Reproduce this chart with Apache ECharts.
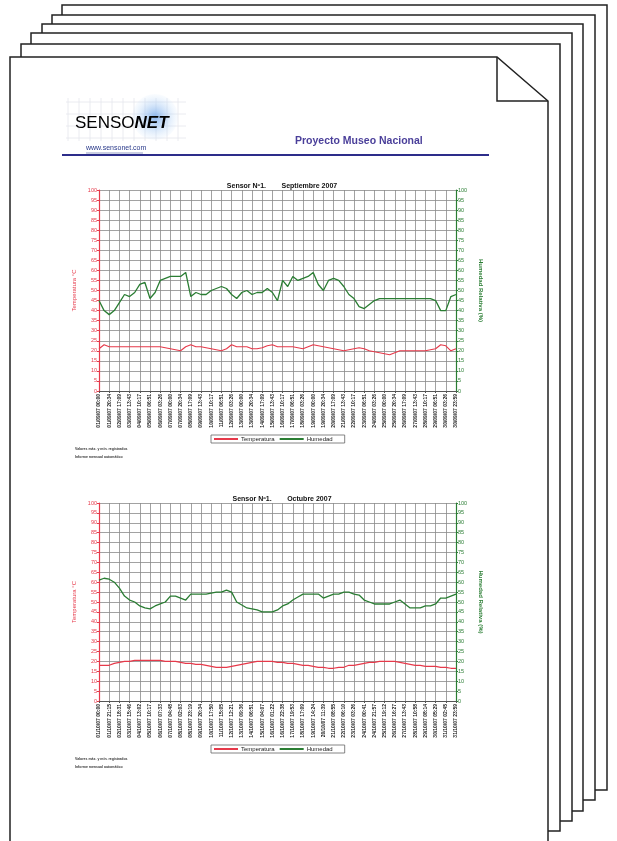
<!DOCTYPE html>
<html>
<head>
<meta charset="utf-8">
<script src="https://cdn.jsdelivr.net/npm/echarts@6/dist/echarts.min.js"></script>
<style>
html,body{margin:0;padding:0;background:#fff;}
#c{width:617px;height:841px;}
</style>
</head>
<body>
<div id="c"></div>
<script>
// ---------- data ----------
const sepTicks = ["01/09/07 00:00","01/09/07 20:34","02/09/07 17:09","03/09/07 13:43","04/09/07 10:17","05/09/07 06:51","06/09/07 03:26","07/09/07 00:00","07/09/07 20:34","08/09/07 17:09","09/09/07 13:43","10/09/07 10:17","11/09/07 06:51","12/09/07 03:26","13/09/07 00:00","13/09/07 20:34","14/09/07 17:09","15/09/07 13:43","16/09/07 10:17","17/09/07 06:51","18/09/07 03:26","19/09/07 00:00","19/09/07 20:34","20/09/07 17:09","21/09/07 13:43","22/09/07 10:17","23/09/07 06:51","24/09/07 03:26","25/09/07 00:00","25/09/07 20:34","26/09/07 17:09","27/09/07 13:43","28/09/07 10:17","29/09/07 06:51","30/09/07 03:26","30/09/07 23:59"];
const octTicks = ["01/10/07 00:00","01/10/07 21:15","02/10/07 18:31","03/10/07 15:46","04/10/07 13:02","05/10/07 10:17","06/10/07 07:33","07/10/07 04:48","08/10/07 02:03","08/10/07 23:19","09/10/07 20:34","10/10/07 17:50","11/10/07 15:05","12/10/07 12:21","13/10/07 09:36","14/10/07 06:51","15/10/07 04:07","16/10/07 01:22","16/10/07 22:38","17/10/07 19:53","18/10/07 17:09","19/10/07 14:24","20/10/07 11:39","21/10/07 08:55","22/10/07 06:10","23/10/07 03:26","24/10/07 00:41","24/10/07 21:57","25/10/07 19:12","26/10/07 16:27","27/10/07 13:43","28/10/07 10:58","29/10/07 08:14","30/10/07 05:29","31/10/07 02:45","31/10/07 23:59"];
const yTicks = [0,5,10,15,20,25,30,35,40,45,50,55,60,65,70,75,80,85,90,95,100];

// one reading every half tick interval
const sepTemp = [21,23,22,22,22,22,22,22,22,22,22,22,22,21.5,21,20.5,20,22,23,22,22,21.5,21,20.5,20,21,23,22,22,22,21,21,21.5,22.5,23,22,22,22,22,21.5,21,22,23,22.5,22,21.5,21,20.5,20,20.5,21,21.5,21,20,19.5,19,18.5,18,19,20,20,20,20,20,20,20.5,21,23,22.5,20,21];
const sepHum = [45,40,38,40,44,48,47,49,53,54,46,49,55,56,57,57,57,59,47,49,48,48,50,51,52,51,48,46,49,50,48,49,49,51,49,45,55,52,57,55,56,57,59,53,50,55,56,55,52,48,46,42,41,43,45,46,46,46,46,46,46,46,46,46,46,46,45,40,40,47,48];
const octTemp = [18,18,18,19,19.5,20,20,20.5,20.5,20.5,20.5,20.5,20.5,20,20,20,19.5,19,19,18.5,18.5,18,17.5,17,17,17,17.5,18,18.5,19,19.5,20,20,20,20,19.5,19.5,19,19,18.5,18,18,17.5,17,17,16.5,16.5,17,17,18,18,18.5,19,19.5,19.5,20,20,20,20,19.5,19,18.5,18,18,17.5,17.5,17.5,17,17,16.5,16.5];
const octHum = [61,62,61.5,60,57,53,51,50,48,47,46.5,48,49,50,53,53,52,51,54,54,54,54,54.5,55,55,56,55,50,48.5,47,46.5,46,45,45,45,46,48,49,51,52.5,54,54,54,54,52,53,54,54,55,55,54,53.5,51,50,49,49,49,49,50,51,49,47,47,47,48,48,49,52,52,53,54];
const STEP = 0.5;

const titles = ["Sensor Nº1.        Septiembre 2007", "Sensor Nº1.        Octubre 2007"];
const seriesNames = ["Temperatura", "Humedad"];
const notes = [["Valores máx. y mín. registrados", "Informe mensual automático"],["Valores máx. y mín. registrados", "Informe mensual automático"]];

// ---------- layout ----------
const RED = '#e6394a', GREEN = '#2a7d33', GRID = '#8a8a8a';
const FONT = 'Liberation Sans';
const grids = [
  {left:99, top:190, width:357, height:201},
  {left:99, top:503, width:357, height:198}
];
const toXY = arr => arr.map((v,i)=>[i*STEP, v]);

const xAxes = [], yAxes = [], series = [], titleArr = [], legends = [];
[[sepTicks, sepTemp, sepHum],[octTicks, octTemp, octHum]].forEach((set, g)=>{
  const ticks = set[0];
  xAxes.push({
    type:'value', gridIndex:g, min:0, max:ticks.length-1, interval:1,
    axisLine:{show:true, onZero:false, lineStyle:{color:'#555', width:1}},
    axisTick:{show:true, length:2, lineStyle:{color:'#555'}},
    splitLine:{show:true, lineStyle:{color:GRID, width:0.8}},
    axisLabel:{rotate:90, fontSize:5, color:'#222', fontFamily:FONT, fontWeight:'bold', margin:3,
      showMinLabel:true, showMaxLabel:true, formatter:v=>ticks[Math.round(v)] || ''}
  });
  yAxes.push({
    type:'value', gridIndex:g, position:'left', min:yTicks[0], max:yTicks[yTicks.length-1], interval:yTicks[1]-yTicks[0],
    name:'Temperatura °C', nameLocation:'middle', nameGap:19,
    nameTextStyle:{color:RED, fontSize:6, fontFamily:FONT},
    axisLine:{show:true, lineStyle:{color:RED, width:1.2}},
    axisTick:{show:true, length:2, lineStyle:{color:RED}},
    splitLine:{show:true, lineStyle:{color:GRID, width:0.8}},
    axisLabel:{fontSize:5.5, color:RED, fontFamily:FONT, margin:2}
  });
  yAxes.push({
    type:'value', gridIndex:g, position:'right', min:yTicks[0], max:yTicks[yTicks.length-1], interval:yTicks[1]-yTicks[0],
    name:'Humedad Relativa (%)', nameLocation:'middle', nameGap:16, nameRotate:-90,
    nameTextStyle:{color:GREEN, fontSize:6, fontFamily:FONT, fontWeight:'bold'},
    axisLine:{show:true, lineStyle:{color:GREEN, width:1.2}},
    axisTick:{show:true, length:2, lineStyle:{color:GREEN}},
    splitLine:{show:false},
    axisLabel:{fontSize:5.5, color:GREEN, fontFamily:FONT, margin:2}
  });
  series.push({name:seriesNames[0], type:'line', xAxisIndex:g, yAxisIndex:g*2, data:toXY(set[1]),
    symbol:'none', lineStyle:{color:RED, width:1.1}, itemStyle:{color:RED}, z:3});
  series.push({name:seriesNames[1], type:'line', xAxisIndex:g, yAxisIndex:g*2+1, data:toXY(set[2]),
    symbol:'none', lineStyle:{color:GREEN, width:1.3}, itemStyle:{color:GREEN}, z:4});
  const gr = grids[g];
  titleArr.push({text:titles[g], left:277, top:gr.top-12, textAlign:'center',
    textStyle:{fontSize:7, fontWeight:'bold', color:'#111', fontFamily:FONT}});
  legends.push({data:seriesNames, left:211, top:gr.top+gr.height+44, orient:'horizontal',
    itemWidth:24, itemHeight:2, itemGap:4, padding:[1,12,1,2],
    borderColor:'#666', borderWidth:0.8, selectedMode:false,
    textStyle:{fontSize:6, color:'#222', fontFamily:FONT, padding:[0,0,0,-2]}});
});

// ---------- page decoration ----------
const pages = [
  [62,5,607,790],[52,15,595,800],[42,24,583,811],[31,33,572,821],[21,44,560,831]
];
const graphic = [];
pages.forEach(p=>{
  graphic.push({type:'rect', z:-10, shape:{x:p[0], y:p[1], width:p[2]-p[0], height:p[3]-p[1]},
    style:{fill:'#fff', stroke:'#222', lineWidth:1.5}});
});
graphic.push({type:'polygon', z:-9, shape:{points:[[10,57],[497,57],[548,101],[548,860],[10,860]]},
  style:{fill:'#fff', stroke:'#222', lineWidth:1.5}});
graphic.push({type:'polyline', z:-8, shape:{points:[[497,57],[497,101],[548,101]]},
  style:{fill:null, stroke:'#222', lineWidth:1.5}});
// logo background grid
for (let i=0;i<11;i++){
  graphic.push({type:'line', z:-7, shape:{x1:68+i*11, y1:98, x2:68+i*11, y2:141}, style:{stroke:'#e4e6ec', lineWidth:0.8}});
}
for (let j=0;j<4;j++){
  graphic.push({type:'line', z:-7, shape:{x1:66, y1:102+j*12, x2:186, y2:102+j*12}, style:{stroke:'#e4e6ec', lineWidth:0.8}});
}
graphic.push({type:'circle', z:-6, shape:{cx:155, cy:117, r:23},
  style:{fill:new echarts.graphic.RadialGradient(0.5,0.5,0.5,[{offset:0,color:'rgba(120,170,235,0.85)'},{offset:1,color:'rgba(200,225,250,0.1)'}])}});
graphic.push({type:'text', z:5, left:75, top:115, style:{
  text:'{a|SENSO}{b|NET}', rich:{a:{fontSize:17, color:'#3a5cab', fontFamily:FONT}, b:{fontSize:17, color:'#1c2c8c', fontFamily:FONT, fontWeight:'bold', fontStyle:'italic'}}}});
graphic.push({type:'text', z:5, left:86, top:145, style:{text:'www.sensonet.com', fontSize:7, fill:'#2a3a8a', fontFamily:FONT}});
graphic.push({type:'line', z:5, shape:{x1:86, y1:153, x2:143, y2:153}, style:{stroke:'#2a3a8a', lineWidth:0.5}});
graphic.push({type:'text', z:5, left:295, top:136, style:{text:'Proyecto Museo Nacional', fontSize:10.5, fontWeight:'bold', fill:'#4a3f9a', fontFamily:FONT}});
graphic.push({type:'line', z:5, shape:{x1:62, y1:155, x2:489, y2:155}, style:{stroke:'#2d2d8a', lineWidth:2}});
// footnotes
grids.forEach((gr,g)=>{
  notes[g].forEach((t,k)=>{
    graphic.push({type:'text', z:5, left:75, top:gr.top+gr.height+56+k*8, style:{text:t, fontSize:3.5, fill:'#333', fontFamily:FONT, fontWeight:'bold'}});
  });
});

const chart = echarts.init(document.getElementById('c'), null, {renderer:'canvas'});
chart.setOption({
  animation:false,
  backgroundColor:'#fff',
  title:titleArr,
  legend:legends,
  grid:grids,
  xAxis:xAxes,
  yAxis:yAxes,
  series:series,
  graphic:graphic
});
</script>
</body>
</html>
